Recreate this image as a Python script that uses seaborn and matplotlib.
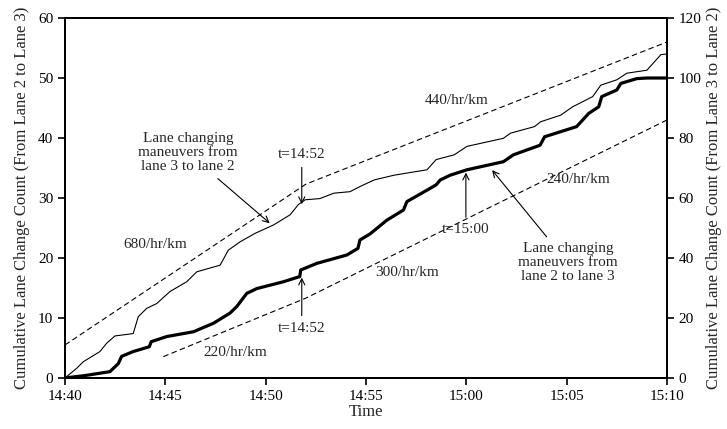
import numpy as np
import pandas as pd
import seaborn as sns
import matplotlib
matplotlib.use('Agg')
import matplotlib.pyplot as plt

# minutes after 14:40
time_ticks = [0, 5, 10, 15, 20, 25, 30]
time_labels = ['14:40', '14:45', '14:50', '14:55', '15:00', '15:05', '15:10']

# lane 2 -> lane 3 cumulative count (left axis)
t_23 = [0, 1.0, 2.24, 2.66, 2.82, 3.4, 4.2, 4.3, 5.07, 6.4, 7.39, 8.22, 8.56, 9.06, 9.56,
        10.9, 11.7, 11.75, 12.55, 14.05, 14.6, 14.7, 15.2, 16.04, 16.87, 17.04, 18.04, 18.5,
        18.7, 19.2, 20.03, 21.85, 22.35, 23.68, 23.9, 24.7, 25.5, 26.1, 26.6, 26.75, 27.5,
        27.7, 28.5, 29.0, 30.0]
count_23 = [0, 0.4, 1.05, 2.4, 3.6, 4.4, 5.2, 6.05, 6.9, 7.7, 9.1, 10.8, 11.9, 14.1, 14.9,
            16.05, 16.9, 18.0, 19.1, 20.5, 21.6, 23.0, 24.0, 26.3, 28.0, 29.4, 31.3, 32.2,
            33.0, 33.8, 34.7, 36.05, 37.2, 38.8, 40.2, 41.05, 41.9, 44.1, 45.2, 46.9, 48.0,
            49.1, 49.9, 50.0, 50.0]

# lane 3 -> lane 2 cumulative count (right axis)
t_32 = [0, 0.58, 0.91, 1.74, 2.08, 2.49, 3.4, 3.65, 4.07, 4.57, 5.23, 6.07, 6.57, 7.73,
        8.14, 8.73, 9.47, 10.39, 11.22, 11.63, 11.97, 12.7, 13.4, 14.2, 14.7, 15.4, 16.4,
        18.04, 18.5, 19.4, 20.03, 21.85, 22.2, 23.4, 23.7, 24.7, 25.3, 26.3, 26.7, 27.5,
        28.0, 29.0, 29.7, 30.0]
count_32 = [0, 3.2, 5.4, 8.8, 11.6, 14.0, 14.8, 20.4, 23.2, 24.8, 28.8, 32.1, 35.4, 37.6,
            42.6, 45.4, 48.2, 51.0, 54.4, 57.8, 59.4, 59.8, 61.6, 62.1, 63.8, 66.0, 67.6,
            69.4, 72.8, 74.4, 77.2, 79.9, 81.6, 83.8, 85.4, 87.6, 90.4, 93.8, 97.6, 99.4,
            101.6, 102.6, 107.8, 108.0]

# reference rate lines
t_upper = [0, 12, 30]
upper_rate = [11.0, 64.6, 112.0]      # right axis units
t_lower = [4.9, 12, 30]
lower_rate = [3.55, 13.3, 43.0]       # left axis units

sns.set_style('ticks')
plt.rcParams['font.family'] = ['Liberation Serif', 'DejaVu Serif']
plt.rcParams['font.size'] = 11

fig = plt.figure(figsize=(7.27, 4.29), dpi=100)
ax = fig.add_axes([0.0894, 0.119, 0.828, 0.839])
ax2 = ax.twinx()

sns.lineplot(x=t_23, y=count_23, ax=ax, color='black', linewidth=2.3, estimator=None)
sns.lineplot(x=t_lower, y=lower_rate, ax=ax, color='black', linewidth=0.8,
             linestyle=(0, (5, 3)), estimator=None)
sns.lineplot(x=t_32, y=count_32, ax=ax2, color='black', linewidth=0.8, estimator=None)
sns.lineplot(x=t_upper, y=upper_rate, ax=ax2, color='black', linewidth=0.8,
             linestyle=(0, (5, 3)), estimator=None)

ax.set_xlim(0, 30)
ax.set_ylim(0, 60)
ax2.set_ylim(0, 120)
ax.set_xticks(time_ticks)
ax.set_xticklabels(time_labels)
ax.set_yticks(range(0, 61, 10))
ax2.set_yticks(range(0, 121, 20))
ax.set_xlabel('Time', fontsize=12, labelpad=1)
ax.set_ylabel('Cumulative Lane Change Count (From Lane 2 to Lane 3)', fontsize=12, labelpad=6)
ax2.set_ylabel('Cumulative Lane Change Count (From Lane 3 to Lane 2)', fontsize=12, labelpad=3)

for a in (ax, ax2):
    for s in a.spines.values():
        s.set_linewidth(1.4)
        s.set_color('black')
    a.tick_params(direction='out', length=5, width=1.2, colors='black', labelsize=11)

arrow = dict(arrowstyle='->', color='black', lw=0.8)
ax.annotate('Lane changing\nmaneuvers from\nlane 3 to lane 2', xy=(10.31, 25.5), xytext=(6.13, 37.5),
            ha='center', va='center', arrowprops=arrow, linespacing=1.1)
ax.annotate('t=14:52', xy=(11.8, 28.5), xytext=(11.8, 37.2), ha='center', va='center',
            arrowprops=arrow)
ax.annotate('t=14:52', xy=(11.8, 17.2), xytext=(11.8, 8.3), ha='center', va='center',
            arrowprops=arrow)
ax.annotate('t=15:00', xy=(19.98, 34.7), xytext=(19.98, 24.7), ha='center', va='center',
            arrowprops=arrow)
ax.annotate('Lane changing\nmaneuvers from\nlane 2 to lane 3', xy=(21.2, 35.0), xytext=(25.06, 19.2),
            ha='center', va='center', arrowprops=arrow, linespacing=1.1)
ax.text(4.48, 22.2, '680/hr/km', ha='center', va='center')
ax.text(8.47, 4.3, '220/hr/km', ha='center', va='center')
ax.text(19.53, 46.3, '440/hr/km', ha='center', va='center')
ax.text(25.56, 33.0, '240/hr/km', ha='center', va='center')
ax.text(17.04, 17.5, '300/hr/km', ha='center', va='center')

fig.savefig('out.png', dpi=100)
